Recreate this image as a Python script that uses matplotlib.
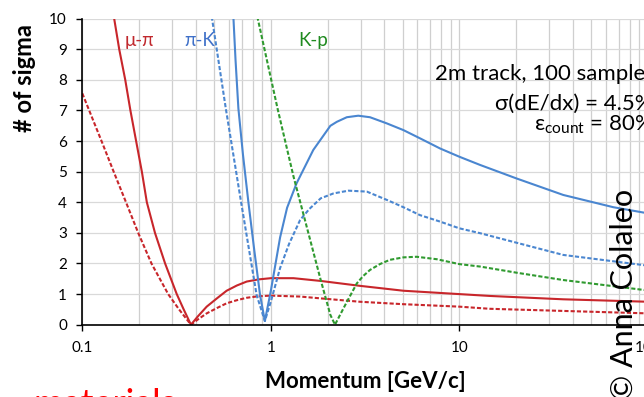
import matplotlib
matplotlib.use("Agg")
import matplotlib.pyplot as plt
from matplotlib.ticker import FixedLocator, FixedFormatter, NullFormatter, LogLocator

plt.rcParams['font.family'] = ['Lato', 'Open Sans', 'DejaVu Sans']
plt.rcParams['mathtext.fontset'] = 'custom'
plt.rcParams['mathtext.rm'] = 'Lato'

# ---- separation power (number of sigma) vs momentum ----
# mu-pi, solid (cluster counting)
mupi_solid_p = [0.147, 0.157, 0.169, 0.180, 0.193, 0.207, 0.220, 0.243, 0.275, 0.317, 0.345, 0.377,
                0.41, 0.457, 0.52, 0.583, 0.66, 0.745, 0.86, 1.0, 1.32, 1.84, 2.97, 5.05,
                10, 14.5, 35.6, 100]
mupi_solid_n = [10.07, 9.0, 8.0, 7.0, 6.0, 5.0, 4.0, 3.0, 2.0, 1.0, 0.5, 0.0,
                0.27, 0.59, 0.87, 1.11, 1.28, 1.41, 1.48, 1.52, 1.52, 1.43, 1.27, 1.11,
                1.00, 0.94, 0.83, 0.75]
# mu-pi, dashed (dE/dx)
mupi_dash_p = [0.1, 0.1265, 0.1467, 0.1706, 0.198, 0.2328, 0.2855, 0.326, 0.377,
               0.41, 0.457, 0.52, 0.583, 0.66, 0.745, 0.86, 1.0, 1.43, 1.84, 2.97, 5.05,
               10, 14.5, 35.6, 100]
mupi_dash_n = [7.56, 6.0, 5.0, 4.0, 3.0, 2.0, 1.0, 0.5, 0.0,
               0.17, 0.37, 0.55, 0.70, 0.80, 0.88, 0.93, 0.95, 0.92, 0.86, 0.75, 0.67,
               0.59, 0.52, 0.45, 0.37]
# pi-K, solid
pik_solid_p = [0.633, 0.650, 0.673, 0.712, 0.760, 0.817, 0.877, 0.93, 1.0, 1.12, 1.22, 1.37,
               1.68, 2.07, 2.24, 2.53, 2.91, 3.36, 4.12, 5.05, 6.19, 7.9, 10, 12.9, 20.1,
               35.6, 65.6, 100]
pik_solid_n = [10.07, 8.65, 7.07, 5.55, 4.02, 2.44, 0.97, 0.12, 1.1, 2.85, 3.82, 4.62,
               5.71, 6.5, 6.63, 6.78, 6.83, 6.78, 6.58, 6.36, 6.09, 5.76, 5.49, 5.22, 4.78,
               4.24, 3.84, 3.64]
# pi-K, dashed
pik_dash_p = [0.486, 0.577, 0.695, 0.841, 0.93, 1.0, 1.12, 1.25, 1.43, 1.6, 1.84, 2.15, 2.58,
              3.23, 4.12, 5.05, 6.19, 7.9, 10, 12.9, 35.6, 100]
pik_dash_n = [10.07, 7.07, 4.02, 0.97, 0.12, 0.75, 1.85, 2.64, 3.42, 3.78, 4.13, 4.29, 4.38,
              4.35, 4.08, 3.84, 3.58, 3.37, 3.15, 2.99, 2.28, 1.93]
# K-p, dashed
kp_dash_p = [0.848, 1.09, 1.32, 1.84, 2.07, 2.19, 2.48, 2.86, 3.09, 3.36, 3.79, 4.28, 5.05,
             5.94, 7.59, 10, 12.9, 20.1, 35.6, 100]
kp_dash_n = [10.07, 7.02, 4.84, 1.46, 0.32, 0.0, 0.64, 1.35, 1.59, 1.79, 1.98, 2.12, 2.20,
             2.22, 2.14, 1.98, 1.90, 1.70, 1.46, 1.12]

x_ticks = [0.1, 1, 10, 100]
x_tick_labels = ['0.1', '1', '10', '100']
y_ticks = list(range(0, 11))

RED = '#c8262b'
BLUE = '#4a86d0'
GREEN = '#2f9a2f'
DASH = (0, (2, 1))

W, H = 644, 397
fig = plt.figure(figsize=(W / 100, H / 100), dpi=100)
x0, x1, y0, y1 = 82.3, 647.8, 324.7, 18.7
ax = fig.add_axes([x0 / W, 1 - y0 / H, (x1 - x0) / W, (y0 - y1) / H])

ax.set_xscale('log')
ax.set_xlim(0.1, 100)
ax.set_ylim(0, 10)

ax.plot(mupi_solid_p, mupi_solid_n, color=RED, lw=1.5)
ax.plot(mupi_dash_p, mupi_dash_n, color=RED, lw=1.5, ls=DASH)
ax.plot(pik_solid_p, pik_solid_n, color=BLUE, lw=1.5)
ax.plot(pik_dash_p, pik_dash_n, color=BLUE, lw=1.5, ls=DASH)
ax.plot(kp_dash_p, kp_dash_n, color=GREEN, lw=1.5, ls=DASH)

ax.xaxis.set_major_locator(FixedLocator(x_ticks))
ax.xaxis.set_major_formatter(FixedFormatter(x_tick_labels))
ax.xaxis.set_minor_locator(LogLocator(base=10, subs=range(2, 10)))
ax.xaxis.set_minor_formatter(NullFormatter())
ax.set_yticks(y_ticks)

ax.grid(True, which='both', axis='x', color='#cfcfcf', lw=0.9)
ax.grid(True, which='major', axis='y', color='#d9d9d9', lw=0.9)
ax.set_axisbelow(True)

for s in ('top', 'right'):
    ax.spines[s].set_visible(False)
for s in ('left', 'bottom'):
    ax.spines[s].set_color('black')
    ax.spines[s].set_linewidth(1.2)

ax.tick_params(axis='both', which='major', direction='out', length=4, width=1,
               labelsize=11, colors='black')
ax.tick_params(axis='x', which='major', pad=8)
ax.tick_params(axis='y', which='major', pad=7)
ax.tick_params(axis='x', which='minor', length=0)

# curve labels
ax.text(0.2, 9.3, 'μ-π', color='#c0282d', fontsize=13.5, ha='center', va='center')
ax.text(0.419, 9.3, 'π-K', color='#3f70c8', fontsize=13.5, ha='center', va='center')
ax.text(1.67, 9.3, 'K-p', color='#1f8a1f', fontsize=13.5, ha='center', va='center')

# axis titles
fig.text(24 / W, 1 - 78 / H, '# of sigma', rotation=90, fontsize=17, fontweight='bold',
         ha='center', va='center')
fig.text(365 / W, 1 - 381 / H, 'Momentum [GeV/c]', fontsize=16, fontweight='bold',
         ha='center', va='center')

# settings box
fig.text(655 / W, 1 - 74 / H, '2m track, 100 samples', fontsize=16, ha='right', va='center')
fig.text(653 / W, 1 - 104 / H, 'σ(dE/dx) = 4.5%', fontsize=16, ha='right', va='center')
fig.text(653 / W, 1 - 125 / H, r'ε$_{\rm count}$ = 80%', fontsize=16, ha='right', va='center')

# credit and footer
fig.text(624 / W, 1 - 294 / H, '© Anna Colaleo', rotation=90, fontsize=22,
         ha='center', va='center')
fig.text(33 / W, 1 - 415 / H, 'materials', color='#ff0000', fontsize=26,
         ha='left', va='baseline')

fig.savefig('out.png', dpi=100)
